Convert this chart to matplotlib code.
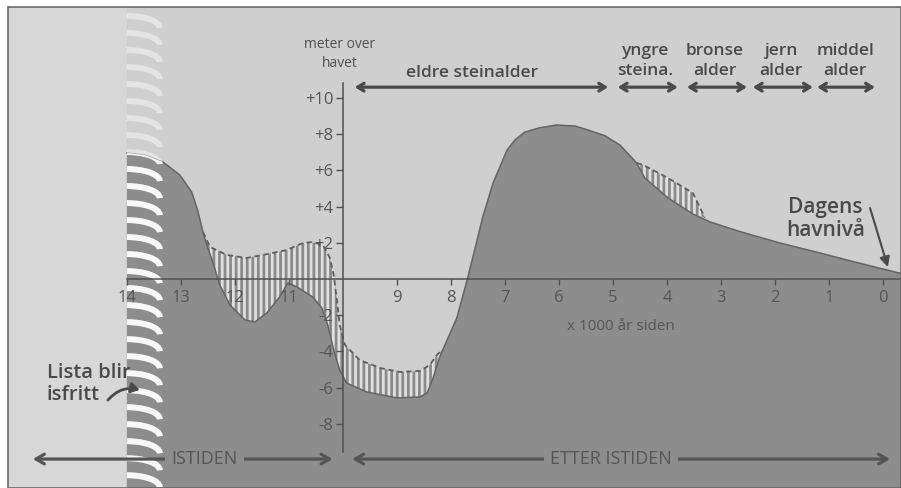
import matplotlib
matplotlib.use('Agg')
import matplotlib.pyplot as plt
from matplotlib.patches import Arc, Rectangle
import numpy as np

plt.rcParams['font.family'] = ['Open Sans', 'DejaVu Sans']
plt.rcParams['hatch.linewidth'] = 2.0

# sea level curve (1000 years ago, metres above sea) - top of the dark land fill
solid_ka = [14.0, 13.67, 13.33, 13.02, 12.80, 12.69, 12.59, 12.52, 12.41, 12.28,
            12.09, 11.81, 11.63, 11.41, 11.17, 11.02, 10.85, 10.56, 10.39, 10.28,
            10.17, 10.06, 9.93, 9.56, 9.0, 8.57, 8.44, 8.33, 8.20, 8.07,
            7.89, 7.70, 7.56, 7.41, 7.22, 6.96, 6.81, 6.63, 6.35, 6.04,
            5.70, 5.48, 5.15, 4.87, 4.56, 4.41, 3.98, 3.52, 3.20, 2.65,
            1.91, 1.17, 0.67, 0.0, -0.33]
solid_m = [6.96, 6.85, 6.46, 5.75, 4.81, 3.81, 2.60, 1.88, 0.94, -0.33,
           -1.44, -2.27, -2.38, -1.88, -0.99, -0.22, -0.44, -0.99, -1.60, -2.54,
           -3.92, -5.03, -5.75, -6.24, -6.57, -6.52, -6.30, -5.47, -4.25, -3.37,
           -2.15, -0.06, 1.60, 3.43, 5.30, 7.13, 7.70, 8.12, 8.36, 8.51,
           8.45, 8.25, 7.92, 7.40, 6.41, 5.58, 4.48, 3.59, 3.15, 2.62,
           1.99, 1.44, 1.05, 0.55, 0.31]

# alternative (higher) level, dashed, hatched down to the curve
dash1_ka = [12.59, 12.46, 12.15, 11.78, 11.48, 11.04, 10.74, 10.57, 10.37, 10.24,
            10.17, 10.11, 10.06, 9.96, 9.69, 9.31, 8.94, 8.57, 8.39, 8.26, 8.15]
dash1_m = [2.60, 1.77, 1.33, 1.16, 1.33, 1.60, 1.99, 2.04, 1.88, 1.16,
           0.22, -1.16, -2.54, -3.65, -4.48, -4.92, -5.14, -5.08, -4.75, -4.20, -3.90]
dash2_ka = [4.56, 4.44, 3.98, 3.52, 3.30]
dash2_m = [6.41, 6.30, 5.58, 4.75, 3.40]

y_ticks = [10, 8, 6, 4, 2, -2, -4, -6, -8]
y_labels = ['+10', '+8', '+6', '+4', '+2', '-2', '-4', '-6', '-8']
x_ticks = [14, 13, 12, 11, 9, 8, 7, 6, 5, 4, 3, 2, 1, 0]

# cultural periods: label, arrow start, arrow end (1000 years ago), label x
periods = ['yngre\nsteina.', 'bronse\nalder', 'jern\nalder', 'middel\nalder']
period_start = [4.91, 3.63, 2.41, 1.22]
period_end = [3.80, 2.52, 1.30, 0.15]
period_mid = [4.40, 3.11, 1.89, 0.70]

BG = '#cfcfcf'
LAND = '#8d8d8d'
INK = '#4a4a4a'

fig = plt.figure(figsize=(9.01, 4.88), dpi=100)
ax = fig.add_axes([8 / 901, 0, 893 / 901, 481 / 488])
ax.set_facecolor(BG)
ax.set_xlim(16.20, -0.333)
ax.set_ylim(-11.55, 15.03)
ybot = -11.55

# light strip before the ice melt
ax.axvspan(16.20, 14.0, color='#d7d7d7', zorder=0, lw=0)

# land / sea curve
land = ax.fill(solid_ka + [solid_ka[-1], solid_ka[0]], solid_m + [ybot, ybot],
               color=LAND, lw=0, zorder=1)[0]
ax.plot(solid_ka, solid_m, color='#646464', lw=1.1, zorder=3)

# hatched uncertainty areas
for dka, dm in [(dash1_ka, dash1_m), (dash2_ka, dash2_m)]:
    lo, hi = min(dka), max(dka)
    sk = [k for k in solid_ka if lo < k < hi][::-1]
    sm = [m for k, m in zip(solid_ka, solid_m) if lo < k < hi][::-1]
    ax.fill(list(dka) + sk, list(dm) + sm, facecolor='#e0e0e0',
            edgecolor='#8a8a8a', hatch='|||', lw=0, zorder=2)
    ax.plot(dka, dm, color='#5e5e5e', lw=1.3, ls=(0, (3, 2)), zorder=3)

# ice edge pattern: faint over the sea, bright over land
for yc in np.arange(14.53, -11.5, -0.94):
    ax.add_patch(Arc((14.0, yc - 0.66), 1.22, 1.33, theta1=90, theta2=180,
                     color='white', lw=4.2, alpha=0.45, zorder=4))
    a = Arc((14.0, yc - 0.66), 1.22, 1.33, theta1=90, theta2=180,
            color='white', lw=4.2, alpha=0.9, zorder=4)
    ax.add_patch(a)
    a.set_clip_path(land)

# axes through the origin
for s in ['top', 'right']:
    ax.spines[s].set_visible(False)
ax.spines['left'].set_position(('data', 10))
ax.spines['left'].set_bounds(-9.56, 10.83)
ax.spines['bottom'].set_position(('data', 0))
ax.spines['bottom'].set_bounds(14.0, -0.333)
for s in ['left', 'bottom']:
    ax.spines[s].set_color('#505050')
    ax.spines[s].set_linewidth(1.1)
    ax.spines[s].set_zorder(5)
ax.xaxis.set_zorder(6)
ax.yaxis.set_zorder(6)
ax.set_xticks(x_ticks)
ax.set_xticklabels([str(t) for t in x_ticks])
ax.set_yticks(y_ticks)
ax.set_yticklabels(y_labels)
ax.tick_params(axis='x', direction='out', length=4, width=1, color='#505050',
               labelsize=12, labelcolor='#555555', pad=4)
ax.tick_params(axis='y', direction='out', length=5, width=1, color='#505050',
               labelsize=12, labelcolor='#555555', pad=2)

ax.text(10.06, 12.45, 'meter over\nhavet', ha='center', va='center', fontsize=10,
        color='#505050', linespacing=1.35)
ax.text(4.85, -2.65, 'x 1000 år siden', ha='center', va='center', fontsize=11,
        color='#555555')

# period arrows
arrow_y = 10.6
ax.annotate('', xy=(5.09, arrow_y), xytext=(9.78, arrow_y),
            arrowprops=dict(arrowstyle='<->,head_length=0.45,head_width=0.28',
                            lw=2.3, color=INK, shrinkA=0, shrinkB=0))
ax.text(7.61, 11.38, 'eldre steinalder', ha='center', va='center',
        fontsize=12.5, fontweight='semibold', color=INK)
for lab, a, b, mid in zip(periods, period_start, period_end, period_mid):
    ax.annotate('', xy=(b, arrow_y), xytext=(a, arrow_y),
                arrowprops=dict(arrowstyle='<->,head_length=0.45,head_width=0.28',
                                lw=2.3, color=INK, shrinkA=0, shrinkB=0))
    ax.text(mid, 12.04, lab, ha='center', va='center', fontsize=12.5,
            fontweight='semibold', color=INK, linespacing=1.3)

# notes
ax.text(1.07, 3.31, 'Dagens\nhavnivå', ha='center', va='center', fontsize=15,
        fontweight='semibold', color=INK, linespacing=1.1)
ax.annotate('', xy=(-0.09, 0.66), xytext=(0.24, 3.92),
            arrowprops=dict(arrowstyle='-|>,head_length=0.6,head_width=0.3',
                            lw=1.5, color=INK, shrinkA=0, shrinkB=0))
ax.text(15.48, -5.8, 'Lista blir\nisfritt', ha='left', va='center', fontsize=14.5,
        fontweight='semibold', color=INK, linespacing=1.1, zorder=7)
ax.annotate('', xy=(13.76, -6.13), xytext=(14.35, -6.69),
            arrowprops=dict(arrowstyle='-|>,head_length=0.5,head_width=0.3',
                            lw=2.0, color=INK, shrinkA=0, shrinkB=0,
                            connectionstyle='arc3,rad=-0.3'), zorder=7)

# ice age / after ice age
band_y = -9.95
ax.annotate('', xy=(15.74, band_y), xytext=(10.19, band_y),
            arrowprops=dict(arrowstyle='<->,head_length=0.6,head_width=0.35',
                            lw=2.3, color='#555555', shrinkA=0, shrinkB=0), zorder=6)
ax.text(12.56, band_y, 'ISTIDEN', ha='center', va='center', fontsize=13,
        color='#555555', zorder=7,
        bbox=dict(boxstyle='square,pad=0.35', fc=LAND, ec='none'))
ax.annotate('', xy=(9.83, band_y), xytext=(-0.13, band_y),
            arrowprops=dict(arrowstyle='<->,head_length=0.6,head_width=0.35',
                            lw=2.3, color='#555555', shrinkA=0, shrinkB=0), zorder=6)
ax.text(5.04, band_y, 'ETTER ISTIDEN', ha='center', va='center', fontsize=13,
        color='#555555', zorder=7,
        bbox=dict(boxstyle='square,pad=0.35', fc=LAND, ec='none'))

ax.add_patch(Rectangle((0, 0), 1, 1, transform=ax.transAxes, fill=False,
                       ec='#6a6a6a', lw=1.2, clip_on=False, zorder=8))

fig.savefig('out.png', dpi=100, facecolor='white')
